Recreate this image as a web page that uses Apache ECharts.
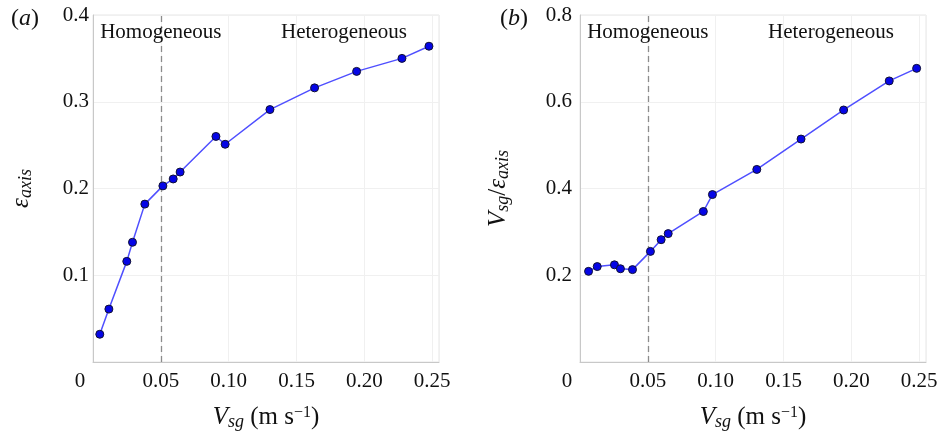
<!DOCTYPE html>
<html>
<head>
<meta charset="utf-8">
<script src="https://cdn.jsdelivr.net/npm/echarts@6/dist/echarts.min.js"></script>
<style>html,body{margin:0;padding:0;background:#fff;}#c{width:942px;height:441px;}</style>
</head>
<body>
<div id="c"></div>
<script>
// Panel (a): gas holdup at the axis vs superficial gas velocity
const vsgA = [0.0050, 0.0117, 0.0249, 0.0291, 0.0382, 0.0515, 0.0591, 0.0642, 0.0906, 0.0974, 0.1304, 0.1633, 0.1943, 0.2277, 0.2476];
const epsAxis = [0.032, 0.061, 0.116, 0.138, 0.182, 0.203, 0.211, 0.219, 0.260, 0.251, 0.291, 0.316, 0.335, 0.350, 0.364];
// Panel (b): Vsg / eps_axis vs superficial gas velocity
const vsgB = [0.0063, 0.0127, 0.0254, 0.0298, 0.0387, 0.0519, 0.0598, 0.0650, 0.0909, 0.0976, 0.1303, 0.1629, 0.1943, 0.2279, 0.2481];
const ratio = [0.209, 0.220, 0.224, 0.215, 0.213, 0.255, 0.282, 0.296, 0.347, 0.386, 0.444, 0.514, 0.581, 0.648, 0.677];

const xTicks = [0.05, 0.10, 0.15, 0.20, 0.25];
const yTicksA = [0.1, 0.2, 0.3, 0.4];
const yTicksB = [0.2, 0.4, 0.6, 0.8];
const transitionX = 0.05;
const regimeLabels = ['Homogeneous', 'Heterogeneous'];
const regimeX = [0.05, 0.185];

const FONT = 'Liberation Serif';
const chart = echarts.init(document.getElementById('c'), null, {renderer: 'canvas'});

function pairs(xs, ys) { return xs.map((x, i) => [x, ys[i]]); }

const nameRich = {
  v: {fontFamily: FONT, fontStyle: 'italic', fontSize: 25, color: '#111', verticalAlign: 'top', lineHeight: 26},
  n: {fontFamily: FONT, fontSize: 25, color: '#111', verticalAlign: 'top', lineHeight: 26},
  s: {fontFamily: FONT, fontStyle: 'italic', fontSize: 18, color: '#111', verticalAlign: 'bottom', lineHeight: 18, padding: [16, 0, 0, 0]},
  p: {fontFamily: FONT, fontSize: 16, color: '#111', verticalAlign: 'top', lineHeight: 16}
};

function xAxisCfg(gridIndex) {
  return {
    type: 'value', gridIndex, min: 0, max: 0.255, interval: 0.05,
    axisLine: {show: true, lineStyle: {color: '#c8c8c8', width: 1}},
    axisTick: {show: false},
    splitLine: {show: true, lineStyle: {color: '#f0f0f0', width: 1}},
    axisLabel: {
      fontFamily: FONT, fontSize: 21, color: '#111', margin: 9,
      showMaxLabel: false,
      formatter: v => {
        if (v === 0) return '{o|0}';
        const t = xTicks.find(k => Math.abs(k - v) < 1e-6);
        return t === undefined ? '' : t.toFixed(2);
      },
      rich: {o: {fontFamily: FONT, fontSize: 21, color: '#111', padding: [0, 26, 0, 0]}}
    },
    name: '{v|V}{s|sg}{n| (m s}{p|−1}{n|)}',
    nameLocation: 'middle', nameGap: 37,
    nameTextStyle: {rich: nameRich}
  };
}

function yAxisCfg(gridIndex, max, interval, ticks, name, gap, margin, digits) {
  return {
    type: 'value', gridIndex, min: 0, max, interval,
    axisLine: {show: true, lineStyle: {color: '#c8c8c8', width: 1}},
    axisTick: {show: false},
    splitLine: {show: true, lineStyle: {color: '#f0f0f0', width: 1}},
    axisLabel: {
      fontFamily: FONT, fontSize: 21, color: '#111', margin,
      formatter: v => {
        const t = ticks.find(k => Math.abs(k - v) < 1e-6);
        return t === undefined ? '' : t.toFixed(digits);
      }
    },
    name, nameLocation: 'middle', nameRotate: 90, nameGap: gap,
    nameTextStyle: {rich: nameRich}
  };
}

function seriesCfg(idx, data, yLab) {
  return {
    type: 'line', xAxisIndex: idx, yAxisIndex: idx, data,
    symbol: 'circle', symbolSize: 8,
    lineStyle: {color: '#4f4fff', width: 1.5},
    itemStyle: {color: '#0505e6', borderColor: '#111133', borderWidth: 1},
    z: 5, animation: false,
    markLine: {
      silent: true, symbol: 'none', animation: false,
      label: {show: false},
      lineStyle: {color: '#8c8c8c', type: [6, 4], width: 1.3},
      data: [{xAxis: transitionX}]
    },
    markPoint: {
      silent: true, animation: false, symbol: 'circle', symbolSize: 0,
      label: {show: true, position: 'inside', fontFamily: FONT, fontSize: 21, color: '#111'},
      data: regimeLabels.map((t, i) => ({coord: [regimeX[i], yLab], value: t, label: {formatter: t}}))
    }
  };
}

const titleRich = {
  n: {fontFamily: FONT, fontSize: 24, fontWeight: 'normal', color: '#111'},
  i: {fontFamily: FONT, fontStyle: 'italic', fontWeight: 'normal', fontSize: 24, color: '#111'}
};

chart.setOption({
  backgroundColor: '#fff',
  animation: false,
  title: [
    {text: '{n|(}{i|a}{n|)}', left: 6, top: 2, textStyle: {fontWeight: 'normal', rich: titleRich}},
    {text: '{n|(}{i|b}{n|)}', left: 495, top: 2, textStyle: {fontWeight: 'normal', rich: titleRich}}
  ],
  grid: [
    {left: 92, top: 15, width: 347, height: 347, show: true, borderColor: '#e6e6e6', borderWidth: 1},
    {left: 580, top: 15, width: 346, height: 347, show: true, borderColor: '#e6e6e6', borderWidth: 1}
  ],
  xAxis: [xAxisCfg(0), xAxisCfg(1)],
  yAxis: [
    yAxisCfg(0, 0.4, 0.1, yTicksA, '{v|ε}{s|axis}', 58, 4, 1),
    yAxisCfg(1, 0.8, 0.2, yTicksB, '{v|V}{s|sg}{n|/}{v|ε}{s|axis}', 68, 8, 1)
  ],
  series: [seriesCfg(0, pairs(vsgA, epsAxis), 0.38), seriesCfg(1, pairs(vsgB, ratio), 0.76)]
});
</script>
</body>
</html>
